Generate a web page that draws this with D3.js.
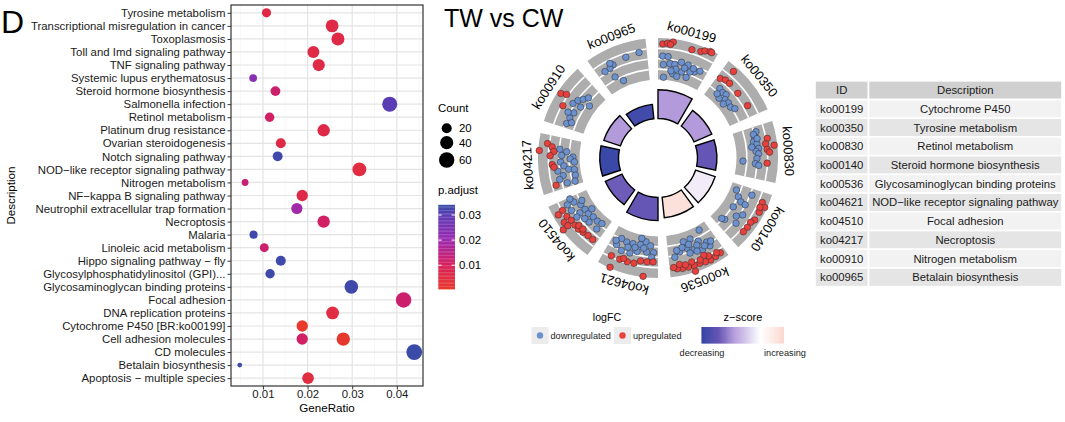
<!DOCTYPE html>
<html>
<head>
<meta charset="utf-8">
<script src="https://cdn.jsdelivr.net/npm/d3@7"></script>
<style>
  body { margin: 0; background: #fff; }
  svg { display: block; font-family: "Liberation Sans", Arial, sans-serif; }
</style>
</head>
<body>
<div class="chart"></div>
<script>
// ---------- data: KEGG dot plot ----------
var pathways = ["Tyrosine metabolism", "Transcriptional misregulation in cancer", "Toxoplasmosis",
  "Toll and Imd signaling pathway", "TNF signaling pathway", "Systemic lupus erythematosus",
  "Steroid hormone biosynthesis", "Salmonella infection", "Retinol metabolism",
  "Platinum drug resistance", "Ovarian steroidogenesis", "Notch signaling pathway",
  "NOD\u2212like receptor signaling pathway", "Nitrogen metabolism", "NF\u2212kappa B signaling pathway",
  "Neutrophil extracellular trap formation", "Necroptosis", "Malaria", "Linoleic acid metabolism",
  "Hippo signaling pathway \u2212 fly", "Glycosylphosphatidylinositol (GPI)...",
  "Glycosaminoglycan binding proteins", "Focal adhesion", "DNA replication proteins",
  "Cytochrome P450 [BR:ko00199]", "Cell adhesion molecules", "CD molecules",
  "Betalain biosynthesis", "Apoptosis \u2212 multiple species"];

// one entry per dot (Cell adhesion molecules appears twice)
var dotTerm = pathways.slice(0, 26).concat(["Cell adhesion molecules"], pathways.slice(26));
var geneRatio = [0.0108, 0.0255, 0.0268, 0.0213, 0.0225, 0.0078, 0.0128, 0.0384, 0.0115, 0.0236,
  0.0140, 0.0133, 0.0316, 0.0060, 0.0188, 0.0176, 0.0236, 0.0079, 0.0103, 0.0140,
  0.0116, 0.0298, 0.0415, 0.0256, 0.0188, 0.0188, 0.0280, 0.0439, 0.0048, 0.0201];
var geneCount = [16, 37, 39, 31, 33, 11, 19, 56, 17, 34, 20, 19, 46, 9, 27, 26, 34, 12, 15, 20,
  17, 44, 61, 37, 27, 27, 41, 64, 7, 29];
var pAdjust = [0.006, 0.006, 0.006, 0.006, 0.006, 0.023, 0.012, 0.030, 0.011, 0.006,
  0.006, 0.033, 0.005, 0.013, 0.006, 0.019, 0.011, 0.033, 0.012, 0.033,
  0.033, 0.033, 0.012, 0.005, 0.0005, 0.011, 0.0008, 0.0336, 0.0334, 0.005];
var ratioTicks = [0.01, 0.02, 0.03, 0.04];
var countBreaks = [20, 40, 60];
var padjBreaks = [0.01, 0.02, 0.03];

// ---------- data: GOCircle ----------
var termIds = ["ko00199", "ko00350", "ko00830", "ko00140", "ko00536", "ko04621", "ko04510", "ko04217", "ko00910", "ko00965"];
var termDesc = ["Cytochrome P450", "Tyrosine metabolism", "Retinol metabolism", "Steroid hormone biosynthesis",
  "Glycosaminoglycan binding proteins", "NOD\u2212like receptor signaling pathway", "Focal adhesion",
  "Necroptosis", "Nitrogen metabolism", "Betalain biosynthesis"];
var termZscore = [-1.6, -1.6, -2.6, -0.3, 1.1, -2.6, -2.5, -3.5, -1.6, -3.3];
var termNegLogP = [2.3, 1.55, 1.55, 1.65, 1.65, 1.85, 1.45, 1.5, 1.4, 1.15];
var lfcLines = [-4, -1, 2];

// [position inside sector 0..1, logFC]
var upGenes = [
  [[.08, 3.3], [.16, 3.6], [.25, 4.1], [.21, 3.3], [.58, 3.1], [.73, 3.5], [.79, 4.1], [.87, 4.6], [.9, 4.5]],
  [[.07, -.5], [.16, .1], [.26, .2], [.5, 0], [.79, .3], [.17, 3.5]],
  [[.26, 2.4], [.35, 1.7], [.39, 4.1], [.45, 2.0], [.69, 1.9], [.5, 2.6]],
  [[.17, 3.1], [.23, 4.3], [.34, 3.5], [.49, 3.5], [.56, 2.9], [.66, 3.0], [.76, 2.9], [.26, 3.05]],
  [[.09, 3.1], [.19, 3.3], [.29, 3.5], [.38, 3.3], [.48, 3.05], [.58, 3.1], [.68, 3.05], [.78, 3.0], [.87, 2.8],
   [.59, 4.8], [.29, 2.15], [.36, 1.4], [.6, 1.9], [.82, 1.7], [.14, 2.5], [.45, 2.2], [.72, 2.2], [.93, 2.3]],
  [[.85, 1.6], [.69, 1.6], [.55, 1.6], [.43, 1.5], [.32, .5], [.2, .5], [.09, .4], [.79, 4.8], [.24, 4.8], [.63, 1.0]],
  [[.84, 1.8], [.71, 1.6], [.61, 1.2], [.5, 1.2], [.41, 1.2], [.31, .8], [.2, .5], [.09, .5], [.65, 3.2],
   [.56, 4.7], [.57, 2.9], [.81, 3.5], [.45, .4], [.35, .2]],
  [[.72, 4.7], [.85, 2.5], [.8, 1.1], [.72, .5], [.64, 1.5], [.48, .95], [.43, .5], [.1, .8]],
  [[.52, 4.0], [.56, 2.5], [.36, 1.7]],
  []
];
var downGenes = [
  [[.09, -.2], [.11, -2.65], [.24, -2.2], [.34, -2.2], [.46, -1.2], [.6, -1.45], [.76, -2.7], [.86, -1.8], [.13, -6.3],
   [.33, -5.0], [.43, -5.5], [.51, -3.9], [.64, -5.0], [.68, -3.2], [.19, -.25], [.38, -3.5], [.55, -2.6], [.28, -4.2], [.72, -1.9]],
  [[.19, -2.8], [.29, -3.1], [.37, -2.8], [.43, -4.0], [.53, -3.85], [.63, -4.1], [.71, -3.3], [.48, -5.2], [.32, -5.0], [.22, -4.45]],
  [[.10, -.37], [.19, -1.1], [.28, -1.7], [.33, -.8], [.42, -.5], [.47, -1.3], [.52, -.6], [.61, -1.1], [.71, -1.5],
   [.74, -.5], [.67, -5.1], [.38, -2.4], [.14, -1.3], [.23, -.5]],
  [[.14, -5.2], [.26, -3.9], [.33, -2.6], [.34, -1.1], [.12, -.5], [.5, -3.75], [.53, -.2], [.62, -1.5], [.82, -3.5], [.73, -.3], [.85, -4.3]],
  [[.21, -5.7], [.48, -4.5], [.34, -3.0], [.61, -2.35], [.48, -1.25], [.34, -.2], [.77, -1.8], [.18, -.2], [.88, -.6], [.64, -4.4],
   [.2, -1.6], [.55, -3.2], [.7, -2.9], [.4, -2.1], [.27, -1.0], [.58, -.7], [.82, -2.4], [.44, -.5], [.12, -1.3]],
  [[.85, -1.9], [.68, -3.8], [.72, -.94], [.54, -3.9], [.38, -4.2], [.27, -5.2], [.16, -4.2], [.09, -2.3], [.23, -2.3],
   [.42, -2.0], [.55, -1.06], [.38, -6.0], [.81, -4.15], [.62, -2.5], [.3, -3.3], [.48, -3.0], [.12, -.9], [.9, -3.0]],
  [[.89, -.2], [.88, -2.25], [.76, -3.6], [.63, -3.9], [.51, -3.9], [.39, -4.4], [.26, -4.4], [.15, -4.75], [.63, -2.1],
   [.37, -2.5], [.76, -.43], [.48, -2.2], [.6, -.7], [.97, -1.6], [.16, -2.6], [.55, -5.6], [.83, -4.5]],
  [[.77, -1.2], [.73, -3.25], [.62, -5.1], [.65, -1.8], [.52, -1.5], [.44, -2.4], [.36, -3.7], [.34, -5.3], [.21, -5.3],
   [.08, -4.8], [.25, -1.8], [.19, -.6], [.09, -2.5], [.35, -.5], [.58, -4.3], [.51, -5.5]],
  [[.49, -.5], [.59, -1.2], [.67, -2.2], [.76, -3.1], [.51, -2.9], [.34, -2.1], [.21, -1.7], [.09, -1.45], [.14, -2.7], [.64, -4.8], [.3, -.5]],
  [[.86, 1.3], [.61, .9], [.34, .2], [.26, -.3], [.15, -.4], [.27, -3.2], [.4, -5.2], [.3, 1.0]]
];

// ---------- svg ----------
var svgWidth = 1065, svgHeight = 422;
var svg = d3.select(".chart").append("svg")
  .attr("width", svgWidth)
  .attr("height", svgHeight);
svg.append("rect").attr("width", svgWidth).attr("height", svgHeight).attr("fill", "#fff");

svg.append("text").attr("x", 1).attr("y", 33).attr("font-size", 32).text("D");

// ---------- dot plot ----------
var panel = { left: 231, right: 423, top: 5, bottom: 386 };
var ext = d3.extent(geneRatio), pad = (ext[1] - ext[0]) * 0.05;
var x = d3.scaleLinear().domain([ext[0] - pad, ext[1] + pad]).range([panel.left, panel.right]);
var y = d3.scalePoint().domain(pathways).range([panel.top, panel.bottom]).padding(0.6);

var padjExt = d3.extent(pAdjust);
var padjColor = d3.scaleLinear()
  .domain([padjExt[0], 0.01, 0.02, 0.03, padjExt[1]])
  .range(["#e8392b", "#d71f5c", "#9c2ab0", "#5a3cb4", "#3a4ca8"]);

var cExt = d3.extent(geneCount);
var sizeR = d3.scaleLinear().domain([0, 1]).range([2.4, 7.9]);
function dotR(c) { return sizeR(Math.sqrt((c - cExt[0]) / (cExt[1] - cExt[0]))); }

var dp = svg.append("g");
// grid
var minor = d3.range(0.005, x.domain()[1], 0.01);
dp.selectAll(".gmin").data(minor).enter().append("line")
  .attr("x1", d => x(d)).attr("x2", d => x(d)).attr("y1", panel.top).attr("y2", panel.bottom)
  .attr("stroke", "#f2f2f2").attr("stroke-width", 0.6);
dp.selectAll(".gx").data(ratioTicks).enter().append("line")
  .attr("x1", d => x(d)).attr("x2", d => x(d)).attr("y1", panel.top).attr("y2", panel.bottom)
  .attr("stroke", "#e4e4e4").attr("stroke-width", 1.2);
dp.selectAll(".gy").data(pathways).enter().append("line")
  .attr("x1", panel.left).attr("x2", panel.right).attr("y1", d => y(d)).attr("y2", d => y(d))
  .attr("stroke", "#e4e4e4").attr("stroke-width", 1.2);

// dots
dp.selectAll(".dot").data(dotTerm).enter().append("circle")
  .attr("cx", (d, i) => x(geneRatio[i]))
  .attr("cy", d => y(d))
  .attr("r", (d, i) => dotR(geneCount[i]))
  .attr("fill", (d, i) => padjColor(pAdjust[i]));

dp.append("rect").attr("x", panel.left).attr("y", panel.top)
  .attr("width", panel.right - panel.left).attr("height", panel.bottom - panel.top)
  .attr("fill", "none").attr("stroke", "#333").attr("stroke-width", 1.2);

// axes
var xAxis = dp.append("g").attr("transform", "translate(0," + panel.bottom + ")")
  .call(d3.axisBottom(x).tickValues(ratioTicks).tickSize(3.5).tickPadding(0).tickFormat(d3.format(".2f")));
var yAxis = dp.append("g").attr("transform", "translate(" + panel.left + ",0)")
  .call(d3.axisLeft(y).tickSize(3.5).tickPadding(2));
[xAxis, yAxis].forEach(function (a) {
  a.select(".domain").remove();
  a.selectAll("line").attr("stroke", "#333");
  a.selectAll("text").attr("fill", "#1a1a1a").attr("font-size", 11.4)
    .attr("font-family", "Liberation Sans, Arial, sans-serif");
});

dp.append("text").attr("x", (panel.left + panel.right) / 2).attr("y", 412)
  .attr("text-anchor", "middle").attr("font-size", 11.6).text("GeneRatio");
dp.append("text").attr("transform", "translate(15," + (panel.top + panel.bottom) / 2 + ") rotate(-90)")
  .attr("text-anchor", "middle").attr("font-size", 11.6).text("Description");

// size legend
var lg = svg.append("g");
lg.append("text").attr("x", 438).attr("y", 112).attr("font-size", 11.4).text("Count");
var countY = d3.scalePoint().domain(countBreaks).range([128.3, 160]);
lg.selectAll(".ck").data(countBreaks).enter().append("circle")
  .attr("cx", 446.7).attr("cy", d => countY(d) + (d === 40 ? -1.5 : 0)).attr("r", d => dotR(d)).attr("fill", "#000");
lg.selectAll(".cl").data(countBreaks).enter().append("text")
  .attr("x", 459).attr("y", d => countY(d) + (d === 40 ? -1.5 : 0)).attr("dy", "0.35em")
  .attr("font-size", 11.4).text(d => d);

// colour bar
lg.append("text").attr("x", 438).attr("y", 194).attr("font-size", 11.4).text("p.adjust");
var barY = d3.scaleLinear().domain(padjExt).range([289, 206]);
var steps = d3.range(0, 60).map(i => padjExt[0] + (padjExt[1] - padjExt[0]) * i / 59);
lg.selectAll(".cb").data(steps).enter().append("rect")
  .attr("x", 438.3).attr("width", 16.7)
  .attr("y", d => barY(d) - 1.2).attr("height", 1.6)
  .attr("fill", d => padjColor(d));
padjBreaks.forEach(function (b) {
  lg.append("line").attr("x1", 438.3).attr("x2", 441.7).attr("y1", barY(b)).attr("y2", barY(b)).attr("stroke", "#fff").attr("stroke-width", 1);
  lg.append("line").attr("x1", 451.6).attr("x2", 455).attr("y1", barY(b)).attr("y2", barY(b)).attr("stroke", "#fff").attr("stroke-width", 1);
  lg.append("text").attr("x", 459).attr("y", barY(b)).attr("dy", "0.35em").attr("font-size", 11.4).text(b.toFixed(2));
});

// ---------- GOCircle ----------
svg.append("text").attr("x", 444).attr("y", 27).attr("font-size", 25).text("TW vs CW");

var cx = 658, cy = 158;
var circ = svg.append("g").attr("transform", "translate(" + cx + "," + cy + ")");
var toRad = Math.PI / 180;
var sectorStart = d3.scaleLinear().domain([0, 1]).range([0, 36]);
var sectorWidth = 30;
var lfcR = d3.scaleLinear().domain([-7, 5]).range([78.5, 120]);
var innerR = 39.5;
var barH = d3.scaleLinear().domain([0, 1]).range([0, 12.5]);

var zColor = d3.scaleLinear()
  .domain([-3.6, -2.6, -1.6, 0, 1.4])
  .range(["#3546a6", "#6555b4", "#b39bdb", "#ffffff", "#fbd9d0"]);

var arc = d3.arc();
termIds.forEach(function (id, i) {
  var a0 = sectorStart(i), a1 = a0 + sectorWidth;
  // grey scatter track
  circ.append("path").attr("d", arc({ innerRadius: lfcR.range()[0], outerRadius: lfcR.range()[1], startAngle: a0 * toRad, endAngle: a1 * toRad }))
    .attr("fill", "#adadad");
  lfcLines.forEach(function (l) {
    circ.append("path").attr("d", arc({ innerRadius: lfcR(l) - 0.8, outerRadius: lfcR(l) + 0.8, startAngle: a0 * toRad, endAngle: a1 * toRad }))
      .attr("fill", "#fff");
  });
  // inner bar
  circ.append("path").attr("d", arc({ innerRadius: innerR, outerRadius: innerR + barH(termNegLogP[i]), startAngle: a0 * toRad, endAngle: a1 * toRad }))
    .attr("fill", zColor(termZscore[i])).attr("stroke", "#000").attr("stroke-width", 1.4);
  // label
  var mid = a0 + sectorWidth / 2;
  circ.append("text").attr("transform", "rotate(" + mid + ") translate(0,-126)")
    .attr("text-anchor", "middle").attr("font-size", 13).text(id);
});

function genePoints(list, color) {
  list.forEach(function (genes, i) {
    var a0 = sectorStart(i);
    circ.selectAll(null).data(genes).enter().append("circle")
      .attr("cx", d => lfcR(d[1]) * Math.sin((a0 + d[0] * sectorWidth) * toRad))
      .attr("cy", d => -lfcR(d[1]) * Math.cos((a0 + d[0] * sectorWidth) * toRad))
      .attr("r", 3.3)
      .attr("fill", color).attr("stroke", "#2b2b2b").attr("stroke-width", 0.5);
  });
}
var downCol = "#6b91cf", upCol = "#e8403c";
genePoints(downGenes, downCol);
genePoints(upGenes, upCol);

// GOCircle legends
var cl = svg.append("g");
cl.append("text").attr("x", 607).attr("y", 320.5).attr("text-anchor", "middle").attr("font-size", 10.6).text("logFC");
var keys = [{ x: 531.5, col: downCol, label: "downregulated" }, { x: 614, col: upCol, label: "upregulated" }];
keys.forEach(function (k) {
  cl.append("rect").attr("x", k.x).attr("y", 327).attr("width", 17).attr("height", 17).attr("fill", "#ececec");
  cl.append("circle").attr("cx", k.x + 8.5).attr("cy", 335.5).attr("r", 3.2).attr("fill", k.col);
  cl.append("text").attr("x", k.x + 19).attr("y", 338.8).attr("font-size", 9.2).attr("fill", "#222").text(k.label);
});
cl.append("text").attr("x", 743).attr("y", 320.5).attr("text-anchor", "middle").attr("font-size", 11).text("z\u2212score");
var zDom = [zColor.domain()[0], zColor.domain()[4]];
var zx = d3.scaleLinear().domain(zDom).range([702, 783]);
var zSteps = d3.range(0, 80).map(i => zDom[0] + (zDom[1] - zDom[0]) * i / 79);
cl.selectAll(".zb").data(zSteps).enter().append("rect")
  .attr("x", d => zx(d) - 0.6).attr("width", 1.6).attr("y", 327).attr("height", 16.5)
  .attr("fill", d => zColor(d));
cl.append("text").attr("x", zx(zDom[0])).attr("y", 355.5).attr("text-anchor", "middle").attr("font-size", 9.2).attr("fill", "#222").text("decreasing");
cl.append("text").attr("x", zx(zDom[1]) + 2).attr("y", 355.5).attr("text-anchor", "middle").attr("font-size", 9.2).attr("fill", "#222").text("increasing");

// ---------- table ----------
var tbl = svg.append("g");
var colX = [815, 868.5], colW = [53.5, 193.5];
var rowTop = 80.8, rowH = 18.72;
var headers = ["ID", "Description"];
function cell(r, c, txt, fill) {
  tbl.append("rect").attr("x", colX[c]).attr("y", rowTop + r * rowH)
    .attr("width", colW[c]).attr("height", rowH)
    .attr("fill", fill).attr("stroke", "#fff").attr("stroke-width", 1.6);
  tbl.append("text").attr("x", colX[c] + colW[c] / 2).attr("y", rowTop + r * rowH + rowH / 2)
    .attr("dy", "0.35em").attr("text-anchor", "middle").attr("font-size", 11.3).attr("fill", "#1a1a1a").text(txt);
}
headers.forEach((h, c) => cell(0, c, h, "#d0d0d0"));
termIds.forEach(function (id, i) {
  var fill = i % 2 === 0 ? "#f2f2f2" : "#e5e5e5";
  cell(i + 1, 0, id, fill);
  cell(i + 1, 1, termDesc[i], fill);
});
</script>
</body>
</html>
